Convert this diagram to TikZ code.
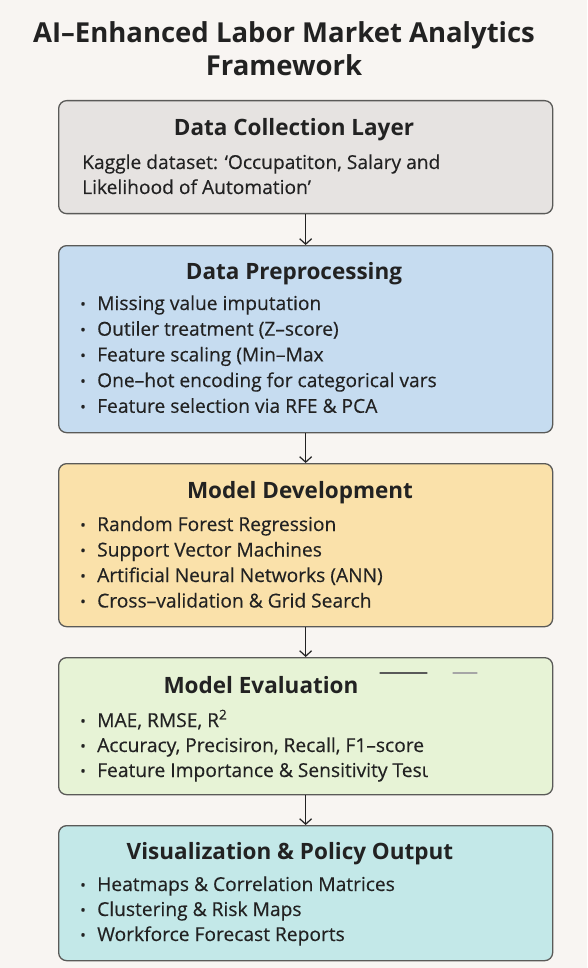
\documentclass[tikz,border=0pt]{standalone}
\usepackage{fontspec}
\setmainfont{Open Sans}
\newfontfamily\bodyf{Open Sans}[BoldFont={Open Sans},BoldFeatures={FakeBold=0.35}]
\usetikzlibrary{arrows.meta}
\definecolor{bgc}{HTML}{F8F5F2}
\definecolor{edgec}{HTML}{5A5A58}
\definecolor{txtc}{HTML}{222222}
\definecolor{f1}{HTML}{E6E3E1}
\definecolor{f2}{HTML}{C6DCF0}
\definecolor{f3}{HTML}{FAE1AA}
\definecolor{f4}{HTML}{E7F3D6}
\definecolor{f5}{HTML}{C3E8E8}
\newcommand{\bul}{\makebox[17pt][l]{\raisebox{0.6pt}{\fontsize{15}{15}\selectfont •}}}
\begin{document}
\begin{tikzpicture}[x=1pt,y=-1pt,
  layerbox/.style={draw=edgec,line width=1.3pt,rounded corners=8pt,anchor=north west,minimum width=494pt,inner sep=0pt},
  head/.style={font=\fontsize{22.5}{25}\selectfont\bfseries,text=txtc,inner sep=0pt,text height=16pt,text depth=4pt},
  item/.style={font=\fontsize{19.2}{22}\selectfont\bodyf\bfseries,text=txtc,anchor=west,inner sep=0pt,text height=14pt,text depth=4pt},
  arr/.style={draw=txtc,line width=1.2pt,-{Straight Barb[length=5.5pt,width=12pt]}}
]
\fill[bgc] (0,0) rectangle (587,968);
\useasboundingbox (0,0) rectangle (587,968);

\node[font=\fontsize{27.5}{30}\selectfont\bfseries,text=txtc,align=center,inner sep=0pt] (title) at (284,49) {AI–Enhanced Labor Market Analytics\\[3pt]Framework};

\node[layerbox,fill=f1,minimum height=113pt] (b1) at (58,100) {};
\node[layerbox,fill=f2,minimum height=187pt] (b2) at (58,245) {};
\node[layerbox,fill=f3,minimum height=163pt] (b3) at (58,463) {};
\node[layerbox,fill=f4,minimum height=137pt] (b4) at (58,657) {};
\node[layerbox,fill=f5,minimum height=135pt] (b5) at (58,825) {};

\draw[arr] (b1.south) -- (b2.north);
\draw[arr] (b2.south) -- (b3.north);
\draw[arr] (b3.south) -- (b4.north);
\draw[arr] (b4.south) -- (b5.north);

% Box 1
\node[head] (h1) at (294,130) {Data Collection Layer};
\node[item] (k1) at (82,164) {Kaggle dataset: ‘Occupatiton, Salary and};
\node[item] (k2) at (82,189) {Likelihood of Automation’};

% Box 2
\node[head] (h2) at (294,273) {Data Preprocessing};
\foreach \t [count=\i] in {Missing value imputation,Outiler treatment (Z–score),Feature scaling (Min–Max,One–hot encoding for categorical vars,Feature selection via RFE \& PCA}
  \node[item] (p\i) at (80,{305+25.7*(\i-1)}) {\bul\t};

% Box 3
\node[head] (h3) at (300,492) {Model Development};
\foreach \t [count=\i] in {Random Forest Regression,Support Vector Machines,Artificial Neural Networks (ANN),Cross–validation \& Grid Search}
  \node[item] (m\i) at (80,{526+25.5*(\i-1)}) {\bul\t};

% Box 4
\node[head] (h4) at (261,687) {Model Evaluation};
\foreach \t [count=\i] in {{MAE, RMSE, R\textsuperscript{2}},{Accuracy, Precisiron, Recall, F1–score},Feature Importance \& Sensitivity Tesι}
  \node[item] (e\i) at (80,{722+25*(\i-1)}) {\bul\t};
\coordinate (s1a) at (380,673);
\coordinate (s1b) at (427,673);
\coordinate (s2a) at (453,673);
\coordinate (s2b) at (477,673);
\draw[black!65,line width=1.3pt,line cap=round] (s1a) -- (s1b);
\draw[black!35,line width=1.1pt,line cap=round] (s2a) -- (s2b);

% Box 5
\node[head] (h5) at (290,853) {Visualization \& Policy Output};
\foreach \t [count=\i] in {Heatmaps \& Correlation Matrices,Clustering \& Risk Maps,Workforce Forecast Reports}
  \node[item] (v\i) at (80,{886+25*(\i-1)}) {\bul\t};
\end{tikzpicture}
\end{document}
